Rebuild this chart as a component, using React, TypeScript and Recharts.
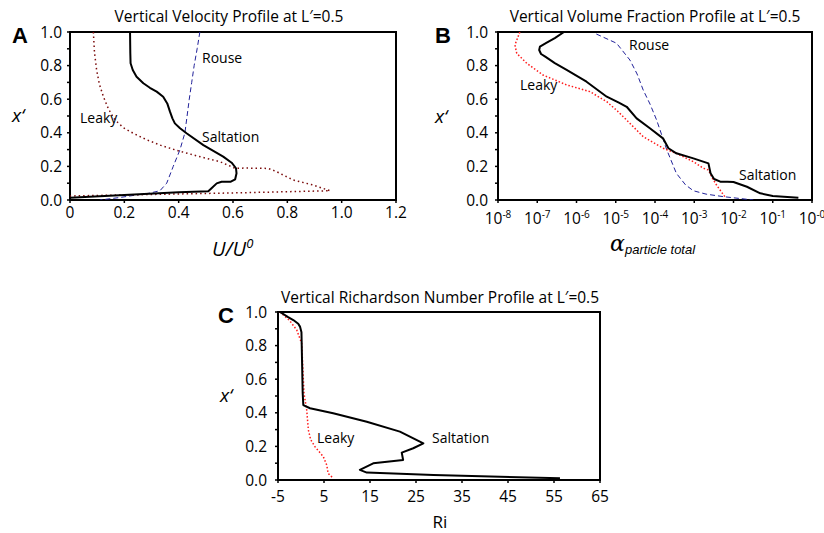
import React from 'react';
import { ScatterChart, Scatter, XAxis, YAxis, ReferenceArea } from 'recharts';

// ---------- data ----------
const heightTicks = [0, 0.1, 0.2, 0.3, 0.4, 0.5, 0.6, 0.7, 0.8, 0.9, 1.0];
const velocityTicks = [0, 0.2, 0.4, 0.6, 0.8, 1.0, 1.2];
const fractionTicks = [1e-8, 1e-7, 1e-6, 1e-5, 1e-4, 1e-3, 1e-2, 1e-1, 1];
const fractionTickExponents = ['-8', '-7', '-6', '-5', '-4', '-3', '-2', '-1', '-0'];
const richardsonTicks = [-5, 5, 15, 25, 35, 45, 55, 65];

// Panel A: U/U0 vs x'
const velSaltationU = [0.221, 0.222, 0.223, 0.231, 0.245, 0.27, 0.294, 0.319, 0.343, 0.358, 0.368, 0.377, 0.386, 0.405, 0.429, 0.491, 0.564, 0.595, 0.611, 0.613, 0.608, 0.592, 0.558, 0.54, 0.521, 0.509, 0.4, 0.2, 0.0];
const velSaltationX = [1.0, 0.873, 0.814, 0.774, 0.734, 0.695, 0.668, 0.645, 0.615, 0.575, 0.526, 0.486, 0.456, 0.427, 0.397, 0.327, 0.258, 0.222, 0.189, 0.159, 0.123, 0.109, 0.109, 0.099, 0.07, 0.052, 0.046, 0.03, 0.014];
const velRouseU = [0.478, 0.468, 0.457, 0.448, 0.439, 0.431, 0.423, 0.405, 0.38, 0.356, 0.331, 0.29, 0.245, 0.184, 0.11];
const velRouseX = [1.0, 0.9, 0.8, 0.7, 0.6, 0.5, 0.4, 0.3, 0.2, 0.1, 0.055, 0.04, 0.03, 0.015, 0.0];
const velLeakyU = [0.086, 0.09, 0.098, 0.108, 0.123, 0.142, 0.166, 0.197, 0.233, 0.28, 0.331, 0.39, 0.454, 0.505, 0.552, 0.585, 0.607, 0.65, 0.73, 0.76, 0.822, 0.895, 0.957, 0.6, 0.3, 0.0];
const velLeakyX = [1.0, 0.88, 0.774, 0.69, 0.615, 0.54, 0.476, 0.43, 0.397, 0.36, 0.327, 0.297, 0.268, 0.247, 0.228, 0.205, 0.189, 0.19, 0.188, 0.169, 0.119, 0.089, 0.055, 0.042, 0.033, 0.024];

// Panel B: alpha particle total vs x'
const fracSaltationA = [4.8e-7, 2.8e-7, 1.7e-7, 1.17e-7, 1.12e-7, 1.25e-7, 1.6e-7, 2.8e-7, 5.6e-7, 1.8e-6, 5.9e-6, 1.2e-5, 1.9e-5, 3.4e-5, 7.4e-5, 1.6e-4, 2.2e-4, 3.5e-4, 9.5e-4, 2.3e-3, 2.6e-3, 3.2e-3, 4.6e-3, 7.0e-3, 1.0e-2, 2.2e-2, 4.8e-2, 0.1, 0.45];
const fracSaltationX = [1.0, 0.964, 0.935, 0.913, 0.893, 0.869, 0.853, 0.815, 0.774, 0.704, 0.615, 0.58, 0.555, 0.486, 0.427, 0.367, 0.308, 0.278, 0.248, 0.218, 0.159, 0.125, 0.109, 0.109, 0.107, 0.079, 0.04, 0.024, 0.014];
const fracLeakyA = [3.6e-8, 2.7e-8, 3.0e-8, 5.4e-8, 1.4e-7, 5.6e-7, 2.2e-6, 5.9e-6, 1.1e-5, 1.55e-5, 2.3e-5, 5.0e-5, 1.6e-4, 3.5e-4, 9.5e-4, 1.7e-3, 2.3e-3, 2.9e-3, 3.7e-3, 6.0e-3];
const fracLeakyX = [1.0, 0.923, 0.873, 0.814, 0.744, 0.685, 0.645, 0.585, 0.53, 0.496, 0.456, 0.377, 0.308, 0.278, 0.228, 0.189, 0.179, 0.13, 0.089, 0.02];
const fracRouseA = [3.2e-6, 1.05e-5, 2.3e-5, 3.5e-5, 5.0e-5, 7.5e-5, 1.1e-4, 2.0e-4, 3.5e-4, 6.0e-4, 9.5e-4, 2.0e-3, 5.5e-3, 3.2e-2];
const fracRouseX = [0.988, 0.933, 0.833, 0.75, 0.655, 0.57, 0.476, 0.298, 0.159, 0.09, 0.055, 0.035, 0.02, 0.0];

// Panel C: Ri vs x'
const riSaltationRi = [-4.57, -2.8, -1.67, -0.6, -0.22, 0.1, 0.15, 0.37, 0.5, 1.96, 7.0, 14.3, 21.5, 26.6, 24.4, 21.9, 22.2, 15.7, 12.8, 14.3, 28.8, 56.3];
const riSaltationX = [1.0, 0.97, 0.952, 0.93, 0.913, 0.88, 0.813, 0.516, 0.446, 0.427, 0.397, 0.347, 0.288, 0.218, 0.189, 0.163, 0.119, 0.099, 0.06, 0.044, 0.03, 0.01];
const riLeakyRi = [-4.57, -2.5, -0.93, 0.15, 0.65, 1.24, 1.6, 2.1, 3.04, 4.85, 5.6, 5.9, 7.0];
const riLeakyX = [1.0, 0.95, 0.893, 0.813, 0.516, 0.417, 0.298, 0.24, 0.198, 0.139, 0.089, 0.04, 0.01];

const pairs = (xs: number[], ys: number[]) => xs.map((x, i) => ({ x, y: ys[i] }));

const FONT = '"Open Sans", "Liberation Sans", sans-serif';
const BOLD_FONT = '"Liberation Sans", Arial, sans-serif';
const LEAKY_DARK = '#7a0a0a';
const LEAKY_RED = '#ff1a1a';
const ROUSE_BLUE = '#22229a';

const noShape = () => null;

const YTick = (props: any) => {
  const { x, y, payload } = props;
  const v = payload.value;
  const idx = Math.round(v * 10);
  if (idx % 2 !== 0) return null;
  return (
    <text x={x} y={y} dy="0.36em" textAnchor="end" fontFamily={FONT} fontSize={15.5} fill="#000">
      {v.toFixed(1)}
    </text>
  );
};

const VelXTick = (props: any) => {
  const { x, y, payload } = props;
  const v = payload.value;
  return (
    <text x={x} y={y} dy="0.71em" textAnchor="middle" fontFamily={FONT} fontSize={15.5} fill="#000">
      {v === 0 ? '0' : v.toFixed(1)}
    </text>
  );
};

const PowXTick = (props: any) => {
  const { x, y, payload } = props;
  const i = fractionTicks.indexOf(payload.value);
  const exp = fractionTickExponents[i >= 0 ? i : 0];
  return (
    <text x={x} y={y} dy="0.71em" textAnchor="middle" fontFamily={FONT} fontSize={15.5} fill="#000">
      <tspan>10</tspan>
      <tspan fontSize={10} dy={-6}>{exp}</tspan>
    </text>
  );
};

const RiXTick = (props: any) => {
  const { x, y, payload } = props;
  return (
    <text x={x} y={y} dy="0.71em" textAnchor="middle" fontFamily={FONT} fontSize={15.5} fill="#000">
      {String(payload.value)}
    </text>
  );
};

const EmptyTick = () => <g />;

const axisLineStyle = { stroke: '#000', strokeWidth: 2 };
const tickLineStyle = { stroke: '#000', strokeWidth: 1.5 };

const saltLine = { stroke: '#000', strokeWidth: 2, fill: 'none', strokeLinejoin: 'round' };

export default function App() {
  return (
    <div style={{ position: 'absolute', left: 0, top: 0, width: 824, height: 533, background: '#fff', overflow: 'hidden' }}>
      {/* Panel A */}
      <div style={{ position: 'absolute', left: 0, top: 0 }}>
        <ScatterChart width={412} height={260} margin={{ top: 32, right: 16, bottom: 30, left: 0 }}>
          <XAxis type="number" dataKey="x" domain={[0, 1.2]} ticks={velocityTicks} height={30}
            axisLine={axisLineStyle} tickLine={tickLineStyle} tickSize={3} tickMargin={4} tick={<VelXTick />} allowDataOverflow />
          <YAxis type="number" dataKey="y" domain={[0, 1]} ticks={heightTicks} width={70} interval={0}
            axisLine={axisLineStyle} tickLine={tickLineStyle} tickSize={3} tickMargin={5} tick={<YTick />} allowDataOverflow />
          <ReferenceArea x1={0} x2={1.2} y1={0} y2={1} fill="none" stroke="#000" strokeWidth={2} />
          <Scatter data={pairs(velRouseU, velRouseX)} fill={ROUSE_BLUE} shape={noShape} isAnimationActive={false}
            line={{ stroke: ROUSE_BLUE, strokeWidth: 1, strokeDasharray: '5 3', fill: 'none' }} />
          <Scatter data={pairs(velLeakyU, velLeakyX)} fill={LEAKY_DARK} shape={noShape} isAnimationActive={false}
            line={{ stroke: LEAKY_DARK, strokeWidth: 1.5, strokeDasharray: '1.5 3', fill: 'none' }} />
          <Scatter data={pairs(velSaltationU, velSaltationX)} fill="#000" shape={noShape} isAnimationActive={false}
            line={saltLine} />
        </ScatterChart>
      </div>

      {/* Panel B */}
      <div style={{ position: 'absolute', left: 412, top: 0 }}>
        <ScatterChart width={412} height={260} margin={{ top: 32, right: 12, bottom: 30, left: 0 }}>
          <XAxis type="number" dataKey="x" scale="log" domain={[1e-8, 1]} ticks={fractionTicks} height={30} interval={0}
            axisLine={axisLineStyle} tickLine={tickLineStyle} tickSize={3} tickMargin={10} tick={<PowXTick />} allowDataOverflow />
          <YAxis type="number" dataKey="y" domain={[0, 1]} ticks={heightTicks} width={86} interval={0}
            axisLine={axisLineStyle} tickLine={tickLineStyle} tickSize={3} tickMargin={7} tick={<YTick />} allowDataOverflow />
          <YAxis yAxisId="right" orientation="right" type="number" domain={[0, 1]} ticks={heightTicks} width={0} interval={0}
            mirror axisLine={axisLineStyle} tickLine={{ stroke: '#000', strokeWidth: 1 }} tickSize={3} tick={<EmptyTick />} />
          <ReferenceArea x1={1e-8} x2={1} y1={0} y2={1} fill="none" stroke="#000" strokeWidth={2} />
          <Scatter data={pairs(fracRouseA, fracRouseX)} fill={ROUSE_BLUE} shape={noShape} isAnimationActive={false}
            line={{ stroke: ROUSE_BLUE, strokeWidth: 1, strokeDasharray: '5 3', fill: 'none' }} />
          <Scatter data={pairs(fracLeakyA, fracLeakyX)} fill={LEAKY_RED} shape={noShape} isAnimationActive={false}
            line={{ stroke: LEAKY_RED, strokeWidth: 1.5, strokeDasharray: '1.5 2', fill: 'none' }} />
          <Scatter data={pairs(fracSaltationA, fracSaltationX)} fill="#000" shape={noShape} isAnimationActive={false}
            line={saltLine} />
        </ScatterChart>
      </div>

      {/* Panel C */}
      <div style={{ position: 'absolute', left: 200, top: 260 }}>
        <ScatterChart width={420} height={273} margin={{ top: 52, right: 20, bottom: 23, left: 0 }}>
          <XAxis type="number" dataKey="x" domain={[-5, 65]} ticks={richardsonTicks} height={30} interval={0}
            axisLine={axisLineStyle} tickLine={tickLineStyle} tickSize={3} tickMargin={8} tick={<RiXTick />} allowDataOverflow />
          <YAxis type="number" dataKey="y" domain={[0, 1]} ticks={heightTicks} width={78} interval={0}
            axisLine={axisLineStyle} tickLine={tickLineStyle} tickSize={3} tickMargin={8} tick={<YTick />} allowDataOverflow />
          <ReferenceArea x1={-5} x2={65} y1={0} y2={1} fill="none" stroke="#000" strokeWidth={2} />
          <Scatter data={pairs(riLeakyRi, riLeakyX)} fill={LEAKY_RED} shape={noShape} isAnimationActive={false}
            line={{ stroke: LEAKY_RED, strokeWidth: 1.5, strokeDasharray: '1.5 2', fill: 'none' }} />
          <Scatter data={pairs(riSaltationRi, riSaltationX)} fill="#000" shape={noShape} isAnimationActive={false}
            line={saltLine} />
        </ScatterChart>
      </div>

      {/* Text overlay */}
      <svg width={824} height={533} style={{ position: 'absolute', left: 0, top: 0, pointerEvents: 'none' }}>
        <g fontFamily={FONT} fill="#000">
          <text x={229} y={22} fontSize={15.5} textAnchor="middle">Vertical Velocity Profile at L′=0.5</text>
          <text x={655} y={22} fontSize={15.5} textAnchor="middle">Vertical Volume Fraction Profile at L′=0.5</text>
          <text x={440} y={303} fontSize={15.5} textAnchor="middle">Vertical Richardson Number Profile at L′=0.5</text>

          <text x={12} y={122} fontSize={19} fontStyle="italic">x‘</text>
          <text x={435} y={123} fontSize={19} fontStyle="italic">x‘</text>
          <text x={220} y={402} fontSize={19} fontStyle="italic">x‘</text>

          <text x={212} y={256} fontSize={20} fontStyle="italic">U/U<tspan fontSize={13} dy={-8}>0</tspan></text>
          <text x={610} y={251} fontSize={22} fontStyle="italic" fontFamily='"DejaVu Serif", "Liberation Serif", serif'>α</text>
          <text x={625} y={254} fontSize={13} fontStyle="italic" fontFamily='"Liberation Sans", Arial, sans-serif'>particle total</text>
          <text x={440} y={528} fontSize={17} textAnchor="middle">Ri</text>

          <text x={202} y={63} fontSize={14}>Rouse</text>
          <text x={202} y={142} fontSize={14}>Saltation</text>
          <text x={80} y={123} fontSize={14}>Leaky</text>

          <text x={629} y={50} fontSize={14}>Rouse</text>
          <text x={520} y={90} fontSize={14}>Leaky</text>
          <text x={739} y={180} fontSize={14}>Saltation</text>

          <text x={317} y={443} fontSize={14}>Leaky</text>
          <text x={432} y={443} fontSize={14}>Saltation</text>
        </g>
        <g fontFamily={BOLD_FONT} fontWeight="bold" fontSize={22} fill="#000">
          <text x={12} y={43}>A</text>
          <text x={435} y={43}>B</text>
          <text x={218} y={323}>C</text>
        </g>
      </svg>
    </div>
  );
}
